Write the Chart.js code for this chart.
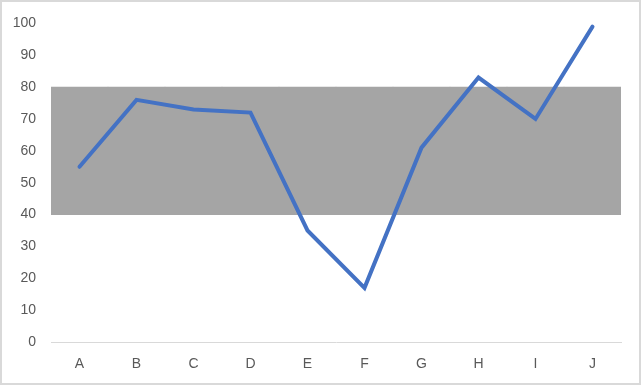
<!DOCTYPE html>
<html>
<head>
<meta charset="utf-8">
<script src="https://cdn.jsdelivr.net/npm/chart.js@4"></script>
<style>
  html, body { margin: 0; padding: 0; background: #fff; }
  #box { width: 641px; height: 385px; box-sizing: border-box; border: 2px solid #d9d9d9; background: #fff; position: relative; }
  #wrap { position: absolute; left: -2px; top: -2px; width: 641px; height: 385px; }
</style>
</head>
<body>
<div id="box"><div id="wrap"><canvas id="line-chart"></canvas></div></div>
<script>
const labels = ['A', 'B', 'C', 'D', 'E', 'F', 'G', 'H', 'I', 'J'];
const values = [55, 76, 73, 72, 35, 17, 61, 83, 70, 99];
const bandLow = 40;
const bandHigh = 80;
const yTicks = [0, 10, 20, 30, 40, 50, 60, 70, 80, 90, 100];

const bandData = labels.map(() => [bandLow, bandHigh]);

const config = {
  type: 'line',
  data: {
    labels: labels,
    datasets: [{
      type: 'line',
      label: 'Value',
      data: values,
      borderColor: '#4472c4',
      borderWidth: 4,
      borderCapStyle: 'round',
      pointRadius: 0,
      tension: 0,
      order: 1
    }, {
      type: 'bar',
      label: 'Band',
      data: bandData,
      backgroundColor: '#a5a5a5',
      borderWidth: 0,
      barPercentage: 1,
      categoryPercentage: 1,
      order: 2
    }]
  },
  options: {
    responsive: true,
    maintainAspectRatio: false,
    animation: false,
    layout: { padding: { top: 21, right: 20, left: 0, bottom: 0 } },
    plugins: { legend: { display: false }, tooltip: { enabled: false } },
    scales: {
      x: {
        offset: true,
        grid: { display: false, drawTicks: false },
        border: { display: true, color: '#d9d9d9', width: 1 },
        ticks: { color: '#595959', padding: 14, font: { family: 'Liberation Sans', size: 14 } },
        afterFit: (s) => { s.height = 43; }
      },
      y: {
        min: 0,
        max: 100,
        afterBuildTicks: (s) => { s.ticks = yTicks.map(v => ({ value: v })); },
        grid: { display: false, drawTicks: false },
        border: { display: false },
        ticks: { color: '#595959', padding: 15, font: { family: 'Liberation Sans', size: 14 } },
        afterFit: (s) => { s.width = 51; }
      }
    }
  }
};

let chartObj = document.getElementById('line-chart');
let lineChart = new Chart(chartObj, config);
</script>
</body>
</html>
